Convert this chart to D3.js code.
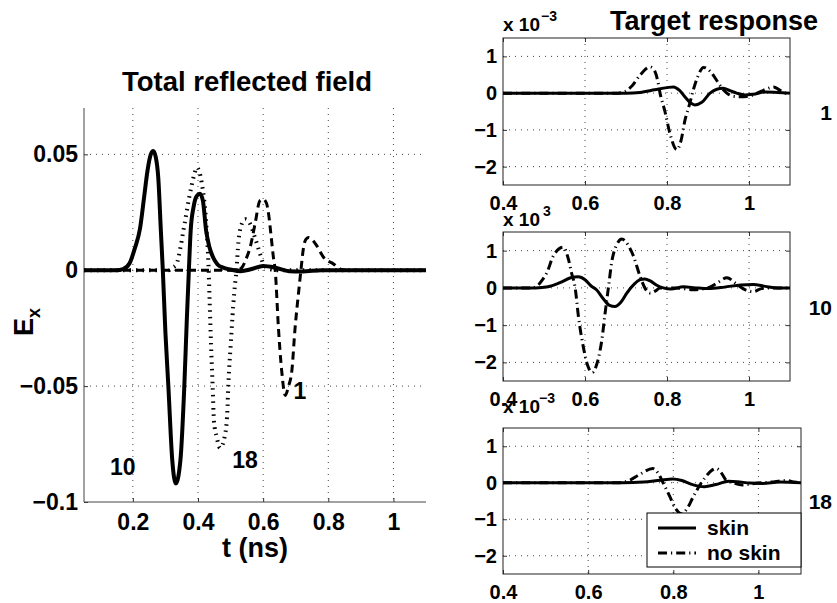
<!DOCTYPE html>
<html>
<head>
<meta charset="utf-8">
<script src="https://cdn.jsdelivr.net/npm/d3@7"></script>
<style>
body { margin: 0; background: #fff; }
text { font-family: "Liberation Sans", Arial, Helvetica, sans-serif; font-weight: bold; fill: #000; }
.grid line { stroke: #444; stroke-width: 1; stroke-dasharray: 1,5; }
.axis line { stroke: #333; }
</style>
</head>
<body>
<div id="chart"></div>
<script>
// tick values
var leftTicksX = [0.2, 0.4, 0.6, 0.8, 1];
var leftTicksY = [-0.1, -0.05, 0, 0.05];
var rightTicksX = [0.4, 0.6, 0.8, 1];
var rightTicksY = [-2, -1, 0, 1];

// total reflected field [t (ns), Ex]
var total10 = [[0.05,0],[0.15,0],[0.17,0.0005],[0.19,0.003],[0.205,0.009],[0.222,0.018],[0.235,0.032],[0.245,0.043],[0.255,0.05],
  [0.2625,0.0515],[0.27,0.049],[0.278,0.04],[0.286,0.017],[0.292,0],[0.3,-0.027],[0.309,-0.05],[0.321,-0.082],[0.332,-0.092],
  [0.346,-0.082],[0.358,-0.05],[0.366,-0.02],[0.372,0],[0.3775,0.017],[0.386,0.027],[0.396,0.032],[0.406,0.033],[0.415,0.03],
  [0.425,0.017],[0.435,0.01],[0.447,0.0054],[0.46,0.0025],[0.477,0.0011],[0.5,0.0003],[0.53,-0.0004],[0.565,0.0005],[0.6,0.0018],
  [0.64,0.001],[0.68,-0.0004],[0.72,-0.0005],[0.78,0],[1.1,0]];
var total18 = [[0.05,0],[0.31,0],[0.32,0.001],[0.334,0.0026],[0.345,0.009],[0.355,0.017],[0.365,0.025],[0.373,0.0314],[0.389,0.0415],
  [0.396,0.0443],[0.403,0.043],[0.411,0.038],[0.4267,0.017],[0.432,0.0026],[0.435,-0.01],[0.44,-0.032],[0.445,-0.05],[0.449,-0.065],
  [0.4575,-0.072],[0.468,-0.0767],[0.483,-0.071],[0.49,-0.061],[0.493,-0.05],[0.5005,-0.032],[0.511,-0.01],[0.518,0],[0.524,0.012],
  [0.532,0.019],[0.545,0.022],[0.56,0.02],[0.575,0.014],[0.591,0.0069],[0.601,0.0026],[0.62,0.0005],[0.65,0],[1.1,0]];
var total1 = [[0.05,0],[0.52,0],[0.534,0.001],[0.548,0.005],[0.56,0.0098],[0.575,0.0199],[0.59,0.03],[0.6,0.0307],[0.61,0.029],
  [0.617,0.024],[0.625,0.014],[0.632,0.005],[0.637,0],[0.647,-0.025],[0.657,-0.0435],[0.668,-0.054],[0.678,-0.05],[0.688,-0.0435],
  [0.698,-0.025],[0.71,-0.008],[0.716,0],[0.724,0.0098],[0.732,0.0135],[0.74,0.0141],[0.752,0.013],[0.765,0.0105],[0.786,0.0055],
  [0.817,0.0026],[0.837,0.0005],[0.86,0],[1.1,0]];

// target response [t (ns), Ex x 1e-3]
var skin1 = [[0.4,0],[0.7,0],[0.734,0.02],[0.77,0.09],[0.8,0.15],[0.816,0.17],[0.83,0.08],[0.845,-0.12],[0.858,-0.27],[0.868,-0.32],
  [0.885,-0.25],[0.905,0],[0.92,0.1],[0.937,0.13],[0.955,0.06],[0.97,0],[0.99,-0.05],[1.01,-0.03],[1.04,0.03],[1.07,0.02],[1.1,0]];
var noSkin1 = [[0.4,0],[0.68,0],[0.695,0.03],[0.715,0.2],[0.735,0.5],[0.759,0.71],[0.77,0.6],[0.778,0.3],[0.783,0],[0.795,-0.5],
  [0.807,-1.09],[0.824,-1.54],[0.834,-1.3],[0.844,-0.73],[0.855,-0.3],[0.864,0.08],[0.875,0.45],[0.889,0.7],[0.905,0.6],[0.921,0.35],
  [0.935,0.12],[0.946,0],[0.96,-0.08],[0.98,-0.1],[1.0,-0.08],[1.02,0],[1.04,0.1],[1.06,0.17],[1.075,0.08],[1.09,0],[1.1,0]];
var skin10 = [[0.4,0],[0.48,0],[0.51,0.03],[0.539,0.14],[0.565,0.27],[0.584,0.3],[0.6,0.22],[0.615,0.05],[0.628,-0.05],[0.645,-0.3],
  [0.66,-0.47],[0.673,-0.5],[0.688,-0.38],[0.702,-0.14],[0.72,0.1],[0.735,0.22],[0.746,0.24],[0.76,0.18],[0.775,0.07],[0.791,0],
  [0.81,-0.03],[0.84,0.03],[0.87,0],[0.9,-0.02],[0.94,0.02],[0.98,0.08],[1.01,0.09],[1.04,0.04],[1.07,0],[1.1,0]];
var noSkin10 = [[0.4,0],[0.47,0],[0.482,0.04],[0.495,0.2],[0.507,0.41],[0.523,0.86],[0.547,1.09],[0.56,0.75],[0.567,0.41],[0.576,0],
  [0.584,-0.77],[0.596,-1.59],[0.607,-2.1],[0.618,-2.27],[0.63,-2.0],[0.641,-1.4],[0.649,-0.68],[0.657,0],[0.665,0.68],[0.677,1.15],
  [0.69,1.31],[0.705,1.15],[0.718,0.86],[0.734,0.32],[0.746,0],[0.759,-0.14],[0.772,-0.08],[0.783,0],[0.82,0],[0.864,-0.05],[0.9,0],
  [0.925,0.15],[0.946,0.27],[0.97,0.1],[0.99,-0.05],[1.011,-0.1],[1.03,-0.02],[1.06,0],[1.1,0]];
var skin18 = [[0.4,0],[0.68,0],[0.73,0.02],[0.77,0.07],[0.799,0.1],[0.82,0.06],[0.845,-0.05],[0.873,-0.11],[0.9,-0.05],[0.93,0.04],
  [0.95,0.03],[0.98,-0.01],[1.01,-0.02],[1.05,0.02],[1.1,0]];
var noSkin18 = [[0.4,0],[0.67,0],[0.685,0.02],[0.698,0.07],[0.72,0.22],[0.752,0.39],[0.765,0.25],[0.776,0],[0.792,-0.38],[0.805,-0.7],
  [0.819,-0.85],[0.833,-0.7],[0.847,-0.38],[0.866,0],[0.88,0.22],[0.901,0.39],[0.914,0.25],[0.924,0.07],[0.94,0],[0.963,-0.06],
  [0.99,-0.02],[1.03,0.02],[1.065,0.06],[1.085,0.02],[1.1,0]];

var width = 837, height = 603;
var svg = d3.select("#chart").append("svg")
    .attr("width", width)
    .attr("height", height);

function fmt(d) { return String(d).replace("-", "\u2212"); }

// makes scales, grid and axes for one panel
function panel(box, xDom, yDom, ticksX, ticksY, fontSize, labelGap, boxed) {
    var x = d3.scaleLinear().domain(xDom).range([box.x0, box.x1]);
    var y = d3.scaleLinear().domain(yDom).range([box.y1, box.y0]);

    var grid = svg.append("g").attr("class", "grid");
    grid.selectAll("line.gx")
        .data(ticksX.filter(function(d) { return x(d) > box.x0 + 1; }))
        .enter().append("line")
        .attr("x1", function(d) { return x(d); }).attr("x2", function(d) { return x(d); })
        .attr("y1", box.y0).attr("y2", box.y1);
    grid.selectAll("line.gy")
        .data(ticksY.filter(function(d) { return y(d) < box.y1 - 1; }))
        .enter().append("line")
        .attr("y1", function(d) { return y(d); }).attr("y2", function(d) { return y(d); })
        .attr("x1", box.x0).attr("x2", box.x1);

    var xa = svg.append("g")
        .attr("class", "axis")
        .attr("transform", "translate(0," + box.y1 + ")")
        .call(d3.axisBottom(x).tickValues(ticksX).tickSize(-4).tickPadding(labelGap).tickFormat(fmt));
    var ya = svg.append("g")
        .attr("class", "axis")
        .attr("transform", "translate(" + box.x0 + ",0)")
        .call(d3.axisLeft(y).tickValues(ticksY).tickSize(-4).tickPadding(6).tickFormat(fmt));
    [xa, ya].forEach(function(a) {
        a.select(".domain").remove();
        a.selectAll("text").style("font-size", fontSize + "px").style("font-family", null);
    });
    if (boxed) {
        svg.append("g").attr("class", "axis")
            .attr("transform", "translate(0," + box.y0 + ")")
            .call(d3.axisTop(x).tickValues(ticksX).tickSize(-4).tickFormat(""))
            .select(".domain").remove();
        svg.append("g").attr("class", "axis")
            .attr("transform", "translate(" + box.x1 + ",0)")
            .call(d3.axisRight(y).tickValues(ticksY).tickSize(-4).tickFormat(""))
            .select(".domain").remove();
        svg.append("rect")
            .attr("x", box.x0).attr("y", box.y0)
            .attr("width", box.x1 - box.x0).attr("height", box.y1 - box.y0)
            .style("fill", "none").style("stroke", "#222").style("stroke-width", 1);
    } else {
        svg.append("path")
            .attr("d", "M" + box.x0 + "," + box.y0 + "V" + box.y1 + "H" + box.x1)
            .style("fill", "none").style("stroke", "#444").style("stroke-width", 1);
    }
    return {x: x, y: y};
}

function curve(p, data, sw, dash) {
    var line = d3.line()
        .x(function(d) { return p.x(d[0]); })
        .y(function(d) { return p.y(d[1]); })
        .curve(d3.curveMonotoneX);
    svg.append("path")
        .datum(data)
        .attr("d", line)
        .style("fill", "none")
        .style("stroke", "#000")
        .style("stroke-width", sw)
        .style("stroke-dasharray", dash || null);
}

// ---- left: total reflected field ----
var L = panel({x0: 84, x1: 426, y0: 108, y1: 502}, [0.05, 1.1], [-0.1, 0.07], leftTicksX, leftTicksY, 23, 12, false);
curve(L, total1, 3, "8,5");
curve(L, total18, 4, "1.5,5");
curve(L, total10, 4);

svg.append("text").attr("x", 247).attr("y", 91).attr("text-anchor", "middle")
    .style("font-size", "27.5px").text("Total reflected field");
svg.append("text").attr("x", 255).attr("y", 557).attr("text-anchor", "middle")
    .style("font-size", "27px").text("t (ns)");
var ex = svg.append("text").attr("transform", "translate(33,322) rotate(-90)").attr("text-anchor", "middle")
    .style("font-size", "27px");
ex.append("tspan").text("E");
ex.append("tspan").attr("dy", 7).style("font-size", "18px").text("x");

svg.append("text").attr("x", L.x(0.13)).attr("y", L.y(-0.0885)).style("font-size", "23px").text("10");
svg.append("text").attr("x", L.x(0.505)).attr("y", L.y(-0.0854)).style("font-size", "23px").text("18");
svg.append("text").attr("x", L.x(0.693)).attr("y", L.y(-0.0556)).style("font-size", "23px").text("1");

// ---- right: target response ----
var boxes = [
    {x0: 503, x1: 790, y0: 38, y1: 185, expY: 31, sup: "\u22123", supX: 541, label: "1"},
    {x0: 503, x1: 790, y0: 232, y1: 381, expY: 226, sup: "3", supX: 543, label: "10"},
    {x0: 503, x1: 801, y0: 428, y1: 574, expY: 413, sup: "\u22123", supX: 539, label: "18"}
];
var skins = [skin1, skin10, skin18];
var noSkins = [noSkin1, noSkin10, noSkin18];

boxes.forEach(function(b, i) {
    var p = panel(b, [0.4, 1.1], [-2.5, 1.5], rightTicksX, rightTicksY, 20, 11, true);
    curve(p, noSkins[i], 3, "9,4,1.2,4");
    curve(p, skins[i], 3);
    svg.append("text").attr("x", b.x0).attr("y", b.expY).style("font-size", "19px").text("x 10");
    svg.append("text").attr("x", b.supX).attr("y", b.expY - 10).style("font-size", "14px").text(b.sup);
    svg.append("text").attr("x", 832).attr("y", (b.y0 + b.y1) / 2 + 8).attr("text-anchor", "end")
        .style("font-size", "21px").text(b.label);
    if (i === 2) {
        var lg = svg.append("g");
        lg.append("rect").attr("x", 647).attr("y", 513).attr("width", b.x1 - 647).attr("height", 54)
            .style("fill", "#fff").style("stroke", "#000").style("stroke-width", 1);
        lg.append("line").attr("x1", 658).attr("x2", 696).attr("y1", 528).attr("y2", 528)
            .style("stroke", "#000").style("stroke-width", 3);
        lg.append("line").attr("x1", 658).attr("x2", 696).attr("y1", 553).attr("y2", 553)
            .style("stroke", "#000").style("stroke-width", 3).style("stroke-dasharray", "9,4,1.2,4");
        lg.append("text").attr("x", 707).attr("y", 535).style("font-size", "21px").text("skin");
        lg.append("text").attr("x", 707).attr("y", 560).style("font-size", "21px").text("no skin");
    }
});

svg.append("text").attr("x", 714).attr("y", 30).attr("text-anchor", "middle")
    .style("font-size", "27px").text("Target response");
</script>
</body>
</html>
